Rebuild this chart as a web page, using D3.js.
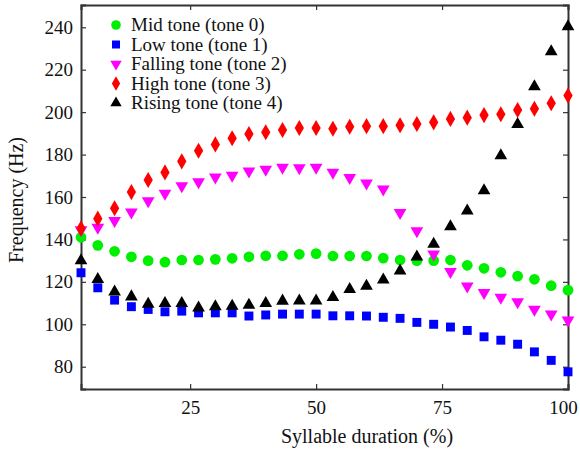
<!DOCTYPE html>
<html>
<head>
<meta charset="utf-8">
<script src="https://cdn.jsdelivr.net/npm/d3@7"></script>
<style>
  body { margin: 0; background: #fff; }
</style>
</head>
<body>
<svg id="chart" width="580" height="450"></svg>
<script>
// x positions: 30 points, 100*k/30 percent of syllable duration
const duration = d3.range(1, 31).map(k => 100 * k / 30)

const midTone = [141, 137.2, 134.4, 131.8, 130, 129.3, 130.3, 130.3, 130.6, 131.1,
    131.8, 132.3, 132.3, 133, 133.3, 132.2, 132.2, 132.2, 131.2, 130.3,
    130, 130, 130.3, 127.8, 126.4, 124.5, 122.7, 121.2, 118.2, 116.1]
const lowTone = [124.3, 117.2, 111.4, 108.3, 107, 105.9, 106.2, 105.4, 105.4, 105.4,
    103.9, 104.4, 104.8, 104.8, 104.8, 104, 104, 103.9, 103.3, 102.8,
    100.9, 100, 98.7, 97.1, 94.1, 92.5, 90.6, 87, 83, 77.6]
const fallingTone = [144.5, 145.7, 148.8, 152.9, 158.2, 161.7, 165.2, 167.1, 169.3, 170.2,
    172.2, 173, 174, 173.7, 174, 171.6, 169.1, 166.5, 163.7, 152.6,
    144, 133.1, 124.8, 118, 114.9, 112.7, 110.6, 107, 104.8, 102]
const highTone = [145.2, 149.8, 154.7, 162.3, 168, 171.6, 176.8, 181.8, 184.8, 187.7,
    189.7, 190.5, 191.6, 192.5, 192.5, 192.2, 193.1, 193.4, 193.4, 193.8,
    194.4, 195.2, 196.8, 197.4, 198.6, 199, 201, 201.6, 204.2, 207.8]
const risingTone = [130, 121.2, 115.3, 113, 109.5, 109.9, 109.9, 107.8, 108.3, 108.6,
    109.1, 109.9, 111, 111.1, 111.1, 112.7, 116.5, 118, 120.9, 125.2,
    131.8, 137.8, 146, 153.5, 163, 179.5, 194.3, 212, 228.5, 240.3]

const xTicks = [25, 50, 75, 100]
const yTicks = [80, 100, 120, 140, 160, 180, 200, 220, 240]

const series = [
    { name: 'Mid tone (tone 0)', values: midTone, color: '#00ee00', symbol: d3.symbolCircle, size: 90 },
    { name: 'Low tone (tone 1)', values: lowTone, color: '#0000ff', symbol: d3.symbolSquare, size: 80 },
    { name: 'Falling tone (tone 2)', values: fallingTone, color: '#ff00ff', symbol: d3.symbolTriangle, size: 70, flip: true },
    { name: 'High tone (tone 3)', values: highTone, color: '#ff0000', symbol: d3.symbolDiamond, size: 75 },
    { name: 'Rising tone (tone 4)', values: risingTone, color: '#000000', symbol: d3.symbolTriangle, size: 70 }
]

const serif = '"Liberation Serif", "Times New Roman", "DejaVu Serif", serif'
const svg = d3.select('#chart')
const plotLeft = 81, plotRight = 568, plotTop = 5, plotBottom = 389

const x = d3.scaleLinear().domain([100 / 30, 100]).range([plotLeft, plotRight])
const y = d3.scaleLinear().domain([69.5, 250.5]).range([plotBottom, plotTop])

// axes with inward ticks
svg.append('g')
    .attr('transform', `translate(0,${plotBottom})`)
    .call(d3.axisBottom(x).tickValues(xTicks).tickSize(-5).tickPadding(12).tickFormat(d3.format('d')))
    .selectAll('.tick text')
    .attr('dx', d => d === 100 ? -5 : 0)
svg.append('g')
    .attr('transform', `translate(0,${plotTop})`)
    .call(d3.axisTop(x).tickValues(xTicks).tickSize(-5).tickFormat(''))
svg.append('g')
    .attr('transform', `translate(${plotLeft},0)`)
    .call(d3.axisLeft(y).tickValues(yTicks).tickSize(-5).tickPadding(8))
svg.append('g')
    .attr('transform', `translate(${plotRight},0)`)
    .call(d3.axisRight(y).tickValues(yTicks).tickSize(-5).tickFormat(''))

svg.selectAll('.domain').attr('stroke', '#333').attr('stroke-width', 2)
svg.selectAll('.tick line').attr('stroke', '#333').attr('stroke-width', 1.2)
svg.selectAll('.tick text').style('font-size', '19px').attr('fill', '#111')

// points
series.forEach(s => {
    svg.append('g')
        .selectAll('path')
        .data(s.values)
        .enter()
        .append('path')
        .attr('d', d3.symbol().type(s.symbol).size(s.size))
        .attr('transform', (v, i) => `translate(${x(duration[i])},${y(v)})` + (s.flip ? ' rotate(180)' : ''))
        .attr('fill', s.color)
})

// legend
const legend = svg.append('g').attr('transform', 'translate(116,25)')
series.forEach((s, i) => {
    const row = legend.append('g').attr('transform', `translate(0,${i * 19.5})`)
    row.append('path')
        .attr('d', d3.symbol().type(s.symbol).size(s.size * 0.8))
        .attr('transform', s.flip ? 'rotate(180)' : null)
        .attr('fill', s.color)
    row.append('text')
        .attr('x', 15)
        .attr('y', 6)
        .style('font-size', '19px')
        .text(s.name)
})

// axis titles
svg.append('text')
    .attr('x', 367)
    .attr('y', 443)
    .attr('text-anchor', 'middle')
    .style('font-size', '20px')
    .text('Syllable duration (%)')
svg.append('text')
    .attr('transform', 'translate(23,200) rotate(-90)')
    .attr('text-anchor', 'middle')
    .style('font-size', '20px')
    .text('Frequency (Hz)')

svg.selectAll('text').style('font-family', serif).style('fill', '#111')
</script>
</body>
</html>
